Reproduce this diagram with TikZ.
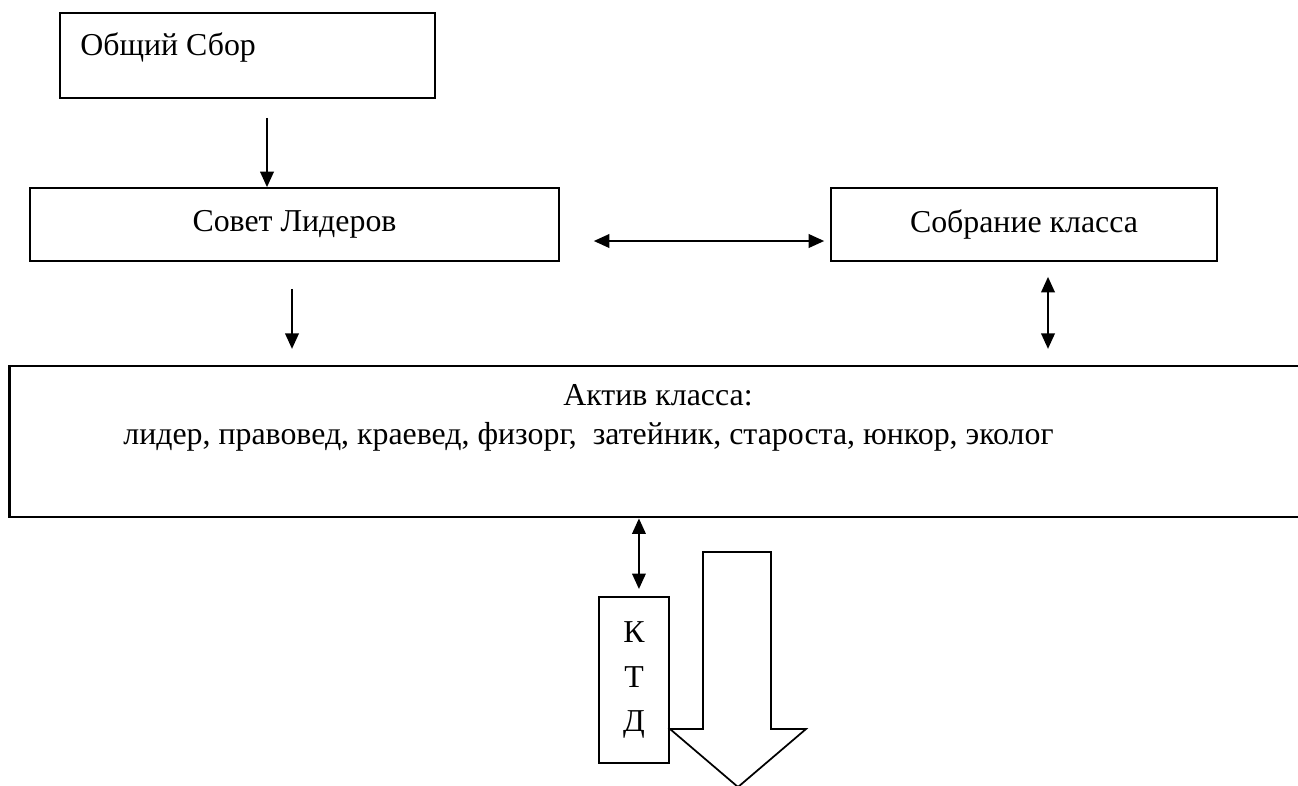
\documentclass[tikz,border=0pt]{standalone}
\usepackage{fontspec}
\setmainfont{Liberation Serif}
\usetikzlibrary{arrows.meta}
\tikzset{box/.style={draw=black,line width=0.9pt,inner sep=0pt},
 txt/.style={font=\fontsize{16.5}{20}\selectfont},
 arr/.style={line width=1pt,-{Triangle[length=8pt,width=7pt]}},
 dblarr/.style={line width=1pt,{Triangle[length=8pt,width=7pt]}-{Triangle[length=8pt,width=7pt]}},
 }
\begin{document}
\begin{tikzpicture}[x=0.0182cm,y=-0.0182cm]
  \useasboundingbox (0,0) rectangle (1298,785);
  \node[box,minimum width=6.825cm,minimum height=1.547cm] (sbor) at (247.5,55.5) {};
  \node[txt,inner sep=0pt,anchor=base west] (sbortext) at (80,55) {Общий Сбор};
  \node[box,txt,minimum width=9.628cm,minimum height=1.329cm] (sovet) at (294.5,224.5) {Совет Лидеров};
  \node[box,txt,minimum width=7.025cm,minimum height=1.329cm] (sobr) at (1024,224.5) {Собрание класса};
  \node[box,line width=1.5pt,minimum width=23.86cm,minimum height=2.748cm] (aktiv) at (664.5,441.5) {};
  \node[txt,inner sep=0pt,anchor=base] (aktivtitle) at (658,405) {Актив класса:};
  \node[txt,inner sep=0pt,anchor=base west] (aktivlist) at (123,444) {лидер, правовед, краевед, физорг,\ \ затейник, староста, юнкор, эколог};
  \node[box,txt,font=\fontsize{16.5}{23}\selectfont,align=center,minimum width=1.274cm,minimum height=3.021cm] (ktd) at (634,680) {К\\Т\\Д};
  \draw[line width=0.9pt,fill=white] (703,552) coordinate (shaft) -- (771,552) -- (771,729)
    -- (806,729) -- (738,787) coordinate (tip) -- (670,729) -- (703,729) -- cycle;
  \draw[arr] (sbor.south) ++(19.5,19) coordinate (a1) -- (a1 |- sovet.north);
  \draw[dblarr] ([shift={(34,16.5)}]sovet.east) -- ([shift={(-6,16.5)}]sobr.west);
  \draw[arr] (sovet.south) ++(-2.5,27) coordinate (a2) -- ++(0,60);
  \draw[dblarr] (sobr.south) ++(24,15) coordinate (a3) -- ++(0,72);
  \draw[dblarr] ([xshift=0.09cm]aktiv.south -| ktd.north) coordinate (a4) -- ([yshift=0.13cm]a4 |- ktd.north);
\end{tikzpicture}
\end{document}
